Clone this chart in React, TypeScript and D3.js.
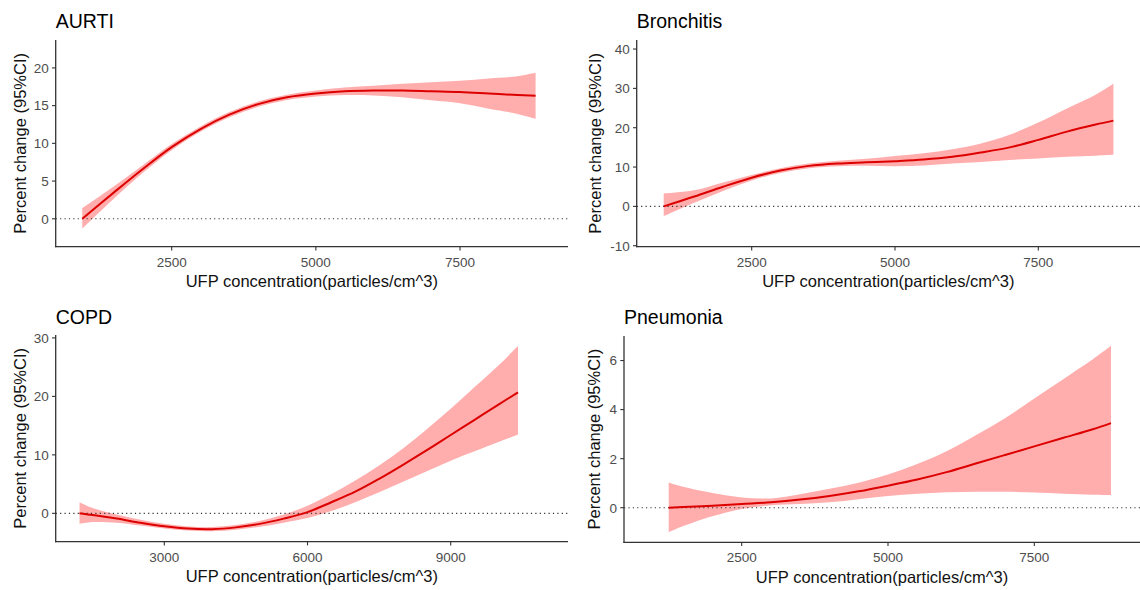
import React from "react";
import * as d3 from "d3";

// ---------- data ----------
const aurtiX = [950, 1500, 2000, 2500, 3000, 3500, 4000, 4500, 5000, 5500, 6000, 6500, 7000, 7500, 8000, 8500, 8810];
const aurtiY = [0, 3.5, 6.6, 9.5, 11.9, 13.8, 15.2, 16.1, 16.6, 16.9, 17.0, 17.0, 16.9, 16.8, 16.6, 16.4, 16.3];
const aurtiLo = [-1.3, 2.7, 6.1, 9.1, 11.55, 13.45, 14.85, 15.75, 16.2, 16.4, 16.35, 16.1, 15.7, 15.3, 14.6, 13.9, 13.25];
const aurtiHi = [1.4, 4.3, 7.1, 9.9, 12.25, 14.15, 15.55, 16.45, 17.0, 17.4, 17.65, 17.9, 18.1, 18.3, 18.6, 18.9, 19.35];

const bronX = [965, 1500, 2000, 2500, 3000, 3500, 4000, 4500, 5000, 5500, 6000, 6500, 7000, 7500, 8000, 8500, 8810];
const bronY = [0, 2.5, 5.0, 7.3, 9.1, 10.3, 10.9, 11.2, 11.5, 11.9, 12.6, 13.7, 15.0, 16.9, 19.0, 20.8, 21.8];
const bronLo = [-2.5, 0.9, 3.9, 6.6, 8.5, 9.7, 10.2, 10.3, 10.2, 10.4, 10.9, 11.3, 11.8, 12.2, 12.6, 12.9, 13.1];
const bronHi = [3.3, 4.1, 6.1, 8.0, 9.7, 10.9, 11.6, 12.1, 12.8, 13.5, 14.5, 16.0, 18.2, 21.3, 24.9, 28.4, 31.2];

const copdX = [1224, 1500, 2000, 2500, 3000, 3500, 4000, 4500, 5000, 5500, 6000, 6500, 7000, 7500, 8000, 8500, 9000, 9500, 10000, 10410];
const copdY = [0, -0.3, -0.9, -1.6, -2.2, -2.6, -2.7, -2.4, -1.8, -0.9, 0.2, 1.9, 3.7, 5.9, 8.3, 10.8, 13.4, 16.0, 18.6, 20.7];
const copdLo = [-1.8, -1.5, -1.6, -2.1, -2.6, -2.95, -3.05, -2.8, -2.3, -1.6, -0.8, 0.4, 1.9, 3.6, 5.4, 7.2, 9.0, 10.6, 12.2, 13.5];
const copdHi = [1.9, 0.9, -0.2, -1.1, -1.8, -2.25, -2.35, -2.0, -1.3, -0.2, 1.3, 3.3, 5.6, 8.2, 11.1, 14.4, 17.9, 21.6, 25.3, 28.6];

const pneuX = [1253, 1500, 2000, 2500, 3000, 3500, 4000, 4500, 5000, 5500, 6000, 6500, 7000, 7500, 8000, 8500, 8810];
const pneuY = [0, 0.03, 0.08, 0.15, 0.22, 0.33, 0.48, 0.67, 0.9, 1.15, 1.45, 1.8, 2.15, 2.5, 2.85, 3.2, 3.45];
const pneuLo = [-1.0, -0.75, -0.35, -0.05, 0.1, 0.15, 0.22, 0.35, 0.48, 0.57, 0.63, 0.65, 0.65, 0.62, 0.57, 0.53, 0.52];
const pneuHi = [1.03, 0.85, 0.6, 0.42, 0.38, 0.55, 0.77, 1.02, 1.35, 1.78, 2.3, 2.95, 3.65, 4.45, 5.25, 6.05, 6.6];

const aurtiXTicks = [2500, 5000, 7500];
const aurtiYTicks = [0, 5, 10, 15, 20];
const bronXTicks = [2500, 5000, 7500];
const bronYTicks = [-10, 0, 10, 20, 30, 40];
const copdXTicks = [3000, 6000, 9000];
const copdYTicks = [0, 10, 20, 30];
const pneuXTicks = [2500, 5000, 7500];
const pneuYTicks = [0, 2, 4, 6];

const titles = ["AURTI", "Bronchitis", "COPD", "Pneumonia"];
const xTitle = "UFP concentration(particles/cm^3)";
const yTitle = "Percent change (95%CI)";

// ---------- layout ----------
const FONT = "'Liberation Sans', Arial, sans-serif";

type PanelSpec = {
  title: string;
  xs: number[]; ys: number[]; lo: number[]; hi: number[];
  xTicks: number[]; yTicks: number[];
  xDomain: [number, number]; yDomain: [number, number];
  left: number; right: number; top: number; bottom: number;
  titleY: number; yTitleX: number;
};

const panels: PanelSpec[] = [
  { title: titles[0], xs: aurtiX, ys: aurtiY, lo: aurtiLo, hi: aurtiHi, xTicks: aurtiXTicks, yTicks: aurtiYTicks,
    xDomain: [489, 9372], yDomain: [-3.7, 23.7], left: 55.7, right: 568, top: 40, bottom: 246.7, titleY: 28, yTitleX: 25.5 },
  { title: titles[1], xs: bronX, ys: bronY, lo: bronLo, hi: bronHi, xTicks: bronXTicks, yTicks: bronYTicks,
    xDomain: [494, 9274], yDomain: [-10.25, 42.3], left: 636.7, right: 1140, top: 40, bottom: 246.7, titleY: 28, yTitleX: 600.5 },
  { title: titles[2], xs: copdX, ys: copdY, lo: copdLo, hi: copdHi, xTicks: copdXTicks, yTicks: copdYTicks,
    xDomain: [725, 11457], yDomain: [-4.85, 30.5], left: 55.7, right: 568, top: 335, bottom: 541.7, titleY: 324, yTitleX: 25.5 },
  { title: titles[3], xs: pneuX, ys: pneuY, lo: pneuLo, hi: pneuHi, xTicks: pneuXTicks, yTicks: pneuYTicks,
    xDomain: [489, 9306], yDomain: [-1.41, 7.0], left: 624, right: 1140, top: 336, bottom: 542.3, titleY: 324, yTitleX: 599.5 },
];

function Panel({ p }: { p: PanelSpec }) {
  const x = d3.scaleLinear().domain(p.xDomain).range([p.left, p.right]);
  const y = d3.scaleLinear().domain(p.yDomain).range([p.bottom, p.top]);
  const idx = p.xs.map((_, i) => i);
  const area = d3.area<number>()
    .x((i) => x(p.xs[i]))
    .y0((i) => y(p.lo[i]))
    .y1((i) => y(p.hi[i]))
    .curve(d3.curveCatmullRom);
  const line = d3.line<number>()
    .x((i) => x(p.xs[i]))
    .y((i) => y(p.ys[i]))
    .curve(d3.curveCatmullRom);
  const midX = (p.left + p.right) / 2;
  const midY = (p.top + p.bottom) / 2;
  return (
    <g>
      <text x={p.left} y={p.titleY} fontFamily={FONT} fontSize={19.5} fill="#000">{p.title}</text>
      <path d={area(idx) || ""} fill="#ff9696" fillOpacity={0.78} stroke="none" />
      <line x1={p.left} x2={p.right} y1={y(0)} y2={y(0)} stroke="#333" strokeWidth={1.1} strokeDasharray="1.2,3.2" />
      <path d={line(idx) || ""} fill="none" stroke="#dd0000" strokeWidth={2} />
      {/* axes */}
      <line x1={p.left} x2={p.left} y1={p.top} y2={p.bottom + 0.6} stroke="#333" strokeWidth={1.3} />
      <line x1={p.left - 0.6} x2={p.right} y1={p.bottom} y2={p.bottom} stroke="#333" strokeWidth={1.3} />
      {p.yTicks.map((t) => (
        <g key={"y" + t}>
          <line x1={p.left - 3.7} x2={p.left} y1={y(t)} y2={y(t)} stroke="#333" strokeWidth={1.1} />
          <text x={p.left - 7} y={y(t)} dy="0.36em" textAnchor="end" fontFamily={FONT} fontSize={13.5} fill="#4d4d4d">{t}</text>
        </g>
      ))}
      {p.xTicks.map((t) => (
        <g key={"x" + t}>
          <line x1={x(t)} x2={x(t)} y1={p.bottom} y2={p.bottom + 3.7} stroke="#333" strokeWidth={1.1} />
          <text x={x(t)} y={p.bottom + 20} textAnchor="middle" fontFamily={FONT} fontSize={13.5} fill="#4d4d4d">{t}</text>
        </g>
      ))}
      <text x={midX} y={p.bottom + 40.5} textAnchor="middle" fontFamily={FONT} fontSize={16.5} fill="#111">{xTitle}</text>
      <text transform={`translate(${p.yTitleX},${midY}) rotate(-90)`} textAnchor="middle" fontFamily={FONT} fontSize={16.5} fill="#111">{yTitle}</text>
    </g>
  );
}

export default function App() {
  return (
    <svg width={1140} height={590} style={{ position: "absolute", left: 0, top: 0, background: "#fff" }}>
      <rect x={0} y={0} width={1140} height={590} fill="#fff" />
      {panels.map((p) => <Panel key={p.title} p={p} />)}
    </svg>
  );
}
